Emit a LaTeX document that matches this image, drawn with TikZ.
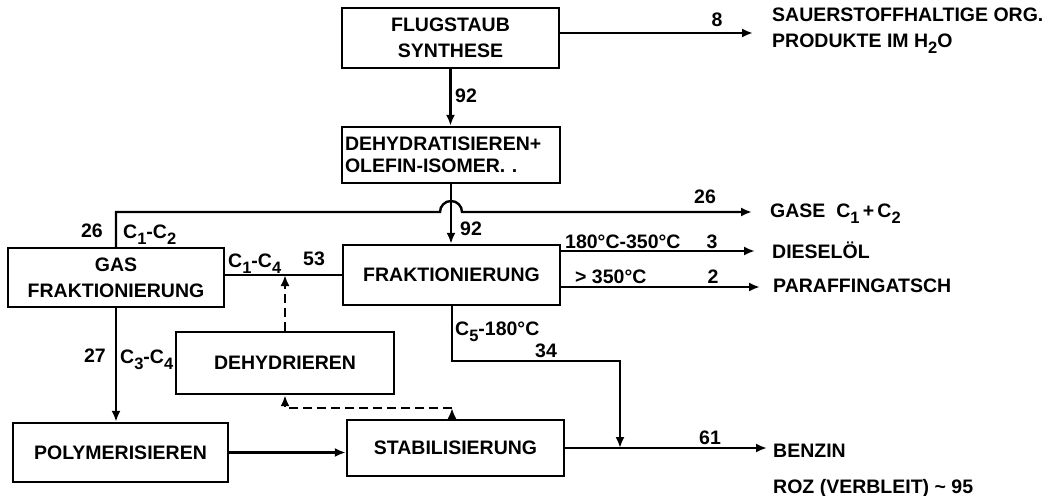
\documentclass[tikz,border=0pt]{standalone}
\usepackage{fontspec}
\setmainfont{Liberation Sans}
\usetikzlibrary{arrows.meta,calc}
\newcommand\lowsub[1]{\raisebox{-6pt}{\fontsize{16.5}{16.5}\selectfont #1}}
\begin{document}
\begin{tikzpicture}[x=1pt,y=-1pt,
  txt/.style={font=\fontsize{19.5}{26}\selectfont\bfseries},
  box/.style={draw,line width=2.4pt,inner sep=0pt,align=center,txt},
  lbl/.style={inner sep=0pt,txt,anchor=base},
  lblw/.style={inner sep=0pt,txt,anchor=base west},
  line/.style={line width=2.4pt},
  flow/.style={line width=2.4pt,-{Latex[length=11pt,width=9pt]}},
  dflow/.style={line width=2.4pt,dash pattern=on 9pt off 5pt,-{Latex[length=11pt,width=9pt]}}
]
\useasboundingbox (0,0) rectangle (1054,495);

% boxes
\node[box,minimum width=217,minimum height=60] (fs) at (450.5,38) {FLUGSTAUB\\SYNTHESE};
\node[box,minimum width=218,minimum height=56,text width=212pt,align=left,
      font=\fontsize{19.5}{22}\selectfont\bfseries] (dh) at (451,155) {DEHYDRATISIEREN+\\OLEFIN-ISOMER. .};
\node[box,minimum width=217,minimum height=60] (fr) at (451.5,275) {FRAKTIONIERUNG};
\node[box,minimum width=216,minimum height=59] (gf) at (116,277.5) {GAS\\FRAKTIONIERUNG};
\node[box,minimum width=218,minimum height=62] (dr) at (285,363) {DEHYDRIEREN};
\node[box,minimum width=215,minimum height=59] (po) at (120.5,452.5) {POLYMERISIEREN};
\node[box,minimum width=217,minimum height=56] (st) at (455.5,448) {STABILISIERUNG};

% free ends and corners
\coordinate (e8) at (753,33);
\coordinate (eg) at (752,212);
\coordinate (ed) at (755,251);
\coordinate (ep) at (760,287);
\coordinate (eb) at (767,448);
\coordinate (sc) at (452,408);
\coordinate (cj) at (620,361);

% output texts
\node[lblw] (t8a) at (772,22) {SAUERSTOFFHALTIGE ORG.};
\node[lblw] (t8b) at (772,48) {PRODUKTE IM H\lowsub{2}O};
\node[lblw] (tg) at (770,217) {GASE\ \ C\lowsub{1}\,+\,C\lowsub{2}};
\node[lblw] (td) at (772,258) {DIESELÖL};
\node[lblw] (tp) at (773,292) {PARAFFINGATSCH};
\node[lblw] (tb) at (773,457) {BENZIN};
\node[lblw] (tr) at (773,493) {ROZ (VERBLEIT) \textasciitilde\ 95};

% labels
\node[lbl] (l8) at (717,27) {8};
\node[lblw] (l92a) at (455,102) {92};
\node[lblw] (l92b) at (460,235) {92};
\node[lbl] (l26a) at (92,237) {26};
\node[lblw] (lc12) at (123,238) {C\lowsub{1}-C\lowsub{2}};
\node[lbl] (l26b) at (705,203) {26};
\node[lblw] (lc14) at (228,267) {C\lowsub{1}-C\lowsub{4}};
\node[lbl] (l53) at (314,265) {53};
\node[lblw] (lt1) at (565,248) {180°C-350°C};
\node[lbl] (l3) at (712,248) {3};
\node[lblw] (lt2) at (575,283) {> 350°C};
\node[lbl] (l2) at (713,283) {2};
\node[lbl] (l27) at (95,362) {27};
\node[lblw] (lc34) at (120,363) {C\lowsub{3}-C\lowsub{4}};
\node[lblw] (lc5) at (455,335) {C\lowsub{5}-180°C};
\node[lbl] (l34) at (546,357) {34};
\node[lbl] (l61) at (710,444) {61};

% connectors
\draw[flow] ([yshift=5pt]fs.east) -- (e8);
\draw[flow] (fs.south) -- (fs.south |- dh.north);
\draw[flow] (dh.south) -- (dh.south |- fr.north);
\draw[flow] (gf.north) |- ([xshift=-11pt]dh.south |- eg)
  arc[start angle=180,end angle=0,radius=11pt] -- (eg);
\draw[line] (gf.east |- fr.west) -- (fr.west);
\draw[dflow] (dr.north) -- (dr.north |- fr.west);
\draw[flow] (fr.east |- ed) -- (ed);
\draw[flow] (fr.east |- ep) -- (ep);
\draw[flow] (gf.south) -- (gf.south |- po.north);
\draw[flow] (po.east) -- (po.east -| st.west);
\draw[dflow] (st.north -| sc) -- (sc);
\draw[dflow] (sc) -| (dr.south);
\draw[flow] (fr.south -| sc) |- (cj) -- (cj |- st.east);
\draw[flow] (st.east) -- (eb);
\end{tikzpicture}
\end{document}
